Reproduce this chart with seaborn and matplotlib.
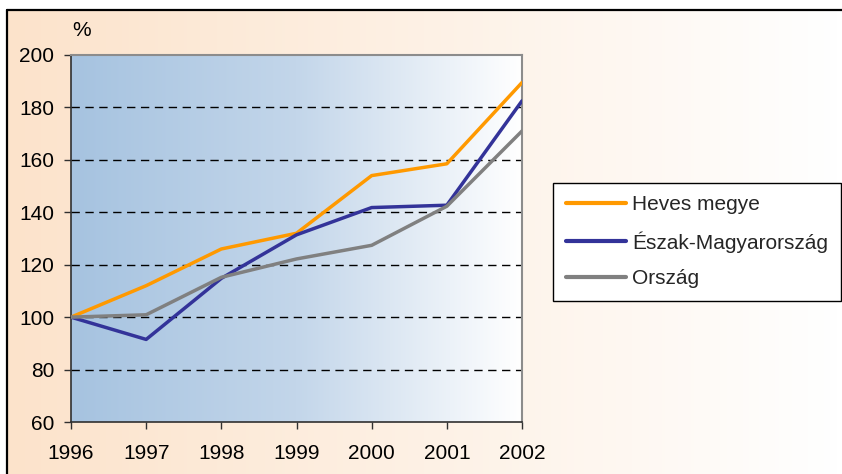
import numpy as np
import pandas as pd
import matplotlib
matplotlib.use("Agg")
import matplotlib.pyplot as plt
import seaborn as sns
from matplotlib.colors import LinearSegmentedColormap

# ---- data ----
years = [1996, 1997, 1998, 1999, 2000, 2001, 2002]
heves = [100, 112, 126, 132, 154, 158.5, 189.5]
eszak = [100, 91.5, 114.8, 131.4, 141.8, 142.7, 182.5]
orszag = [100, 100.9, 115.2, 122.2, 127.4, 142.3, 171]
series_names = ["Heves megye", "Észak-Magyarország", "Ország"]
series_colors = ["#FF9900", "#333399", "#808080"]
y_ticks = [60, 80, 100, 120, 140, 160, 180, 200]
grid_levels = [80, 100, 120, 140, 160, 180]
unit_label = "%"

df = pd.DataFrame({
    "year": years * 3,
    "value": heves + eszak + orszag,
    "series": [series_names[0]] * 7 + [series_names[1]] * 7 + [series_names[2]] * 7,
})

sns.set_theme(style="white")
plt.rcParams["font.family"] = ["Liberation Sans", "DejaVu Sans"]

W, H = 842, 474
fig = plt.figure(figsize=(W / 100, H / 100), dpi=100)
fig.patch.set_facecolor("white")

# figure background gradient + frame lines
bg = fig.add_axes([0, 0, 1, 1], zorder=-10)
grad = np.linspace(0, 1, 256).reshape(1, -1)
cmap_bg = LinearSegmentedColormap.from_list("bg", ["#FCE3CB", "#FFFFFF"])
bg.imshow(grad, cmap=cmap_bg, aspect="auto",
          extent=[7 / W, 1, 0, 1 - 10 / H], interpolation="bilinear")
bg.plot([7 / W, 1], [1 - 9.5 / H] * 2, color="black", lw=1.6)
bg.plot([7 / W] * 2, [0, 1 - 9.5 / H], color="black", lw=1.6)
bg.set_xlim(0, 1)
bg.set_ylim(0, 1)
bg.axis("off")

# main axes
x0, x1, y0, y1 = 71, 522, 55, 422
ax = fig.add_axes([x0 / W, 1 - y1 / H, (x1 - x0) / W, (y1 - y0) / H])
ax.patch.set_alpha(0)
cmap_ax = LinearSegmentedColormap.from_list("ax", ["#A6C3E0", "#C3D6EA", "#FFFFFF"])
ax.imshow(grad, cmap=cmap_ax, aspect="auto",
          extent=[years[0], years[-1], 60, 200], interpolation="bilinear", zorder=0)

for g in grid_levels:
    ax.axhline(g, color="black", lw=1.0, ls=(0, (6, 4)), zorder=1)

sns.lineplot(data=df, x="year", y="value", hue="series", hue_order=series_names,
             palette=dict(zip(series_names, series_colors)), lw=2.5, ax=ax,
             zorder=3)
handles, labels = ax.get_legend_handles_labels()
if ax.get_legend() is not None:
    ax.get_legend().remove()

ax.set_xlim(years[0], years[-1])
ax.set_ylim(60, 200)
ax.set_xticks(years)
ax.set_xticklabels([str(y) for y in years])
ax.set_yticks(y_ticks)
ax.set_xlabel("")
ax.set_ylabel("")

for side in ["left", "bottom"]:
    ax.spines[side].set_color("#303030")
    ax.spines[side].set_linewidth(1.2)
for side in ["top", "right"]:
    ax.spines[side].set_color("#8C8C8C")
    ax.spines[side].set_linewidth(1.5)
ax.tick_params(axis="both", direction="out", length=5, width=1.0, color="#303030",
               labelsize=15, labelcolor="black")
ax.tick_params(axis="y", pad=7)
ax.tick_params(axis="x", pad=11)
ax.tick_params(left=True, bottom=True)

fig.text(72 / W, 1 - 30 / H, unit_label, ha="left", va="center", fontsize=15,
         color="black")

leg = fig.legend(handles, labels, loc="upper left",
                 bbox_to_anchor=(553 / W, 1 - 183 / H), fontsize=15,
                 frameon=True, fancybox=False, framealpha=1, edgecolor="black",
                 facecolor="white", handlelength=2.9, handletextpad=0.3,
                 labelspacing=0.8, borderpad=0.6, borderaxespad=0)
leg.get_frame().set_linewidth(1.0)
for line in leg.get_lines():
    line.set_linewidth(3)

fig.savefig("out.png", dpi=100)
